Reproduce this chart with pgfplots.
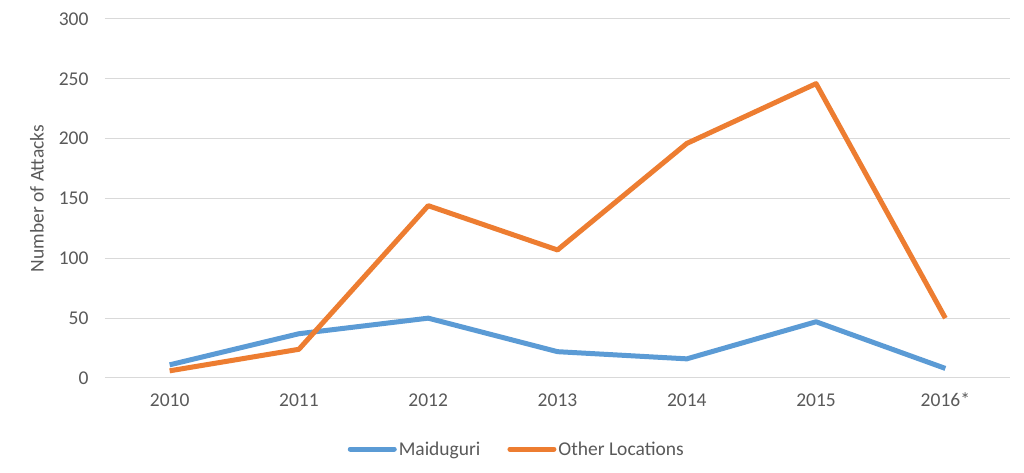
\documentclass[border=0pt]{standalone}
\usepackage{fontspec}
\setmainfont{Carlito}
\usepackage{pgfplots}
\pgfplotsset{compat=1.18}
\definecolor{mblue}{HTML}{5B9BD5}
\definecolor{morange}{HTML}{ED7D31}
\definecolor{txtgray}{HTML}{595959}
\definecolor{gridgray}{HTML}{D9D9D9}
\begin{document}
\begin{tikzpicture}[x=1pt,y=1pt]
\path[use as bounding box] (-105,-95) rectangle (919,378);
\begin{axis}[
    at={(0,0)}, anchor=south west,
    scale only axis,
    width=905pt, height=359pt,
    xmin=-0.5, xmax=6.5,
    ymin=0, ymax=300,
    ytick={0,50,...,300},
    xtick={0,...,6},
    xticklabels={2010,2011,2012,2013,2014,2015,2016*},
    axis line style={draw=none},
    major tick length=0pt,
    ymajorgrids,
    major grid style={gridgray, line width=1pt},
    tick label style={font=\fontsize{19.5}{23}\selectfont, text=txtgray},
    /pgf/number format/assume math mode=true,
    yticklabel style={xshift=-13pt},
    xticklabel style={yshift=-12pt, text height=13pt, text depth=0pt},
    ylabel={Number of Attacks},
    every axis y label/.style={at={(axis description cs:-0.0751,0.5)}, rotate=90,
        anchor=center, font=\fontsize{19.5}{23}\selectfont, text=txtgray},
    legend columns=2,
    legend style={at={(axis description cs:0.455,-0.198)}, anchor=center, draw=none,
        font=\fontsize{19.5}{23}\selectfont, text=txtgray,
        /tikz/every even column/.append style={column sep=25pt}},
    legend image code/.code={\draw[#1, line cap=round] (0pt,0pt) -- (44pt,0pt);},
    legend cell align=left,
    clip=false,
]
\addplot[mblue, line width=5pt, line join=round] coordinates {
    (0,11) (1,37) (2,50) (3,22) (4,16) (5,47) (6,8)
};
\addplot[morange, line width=5pt, line join=round] coordinates {
    (0,6) (1,24) (2,144) (3,107) (4,196) (5,246) (6,50)
};
\legend{Maiduguri, Other Locations}
\end{axis}
\end{tikzpicture}
\end{document}
